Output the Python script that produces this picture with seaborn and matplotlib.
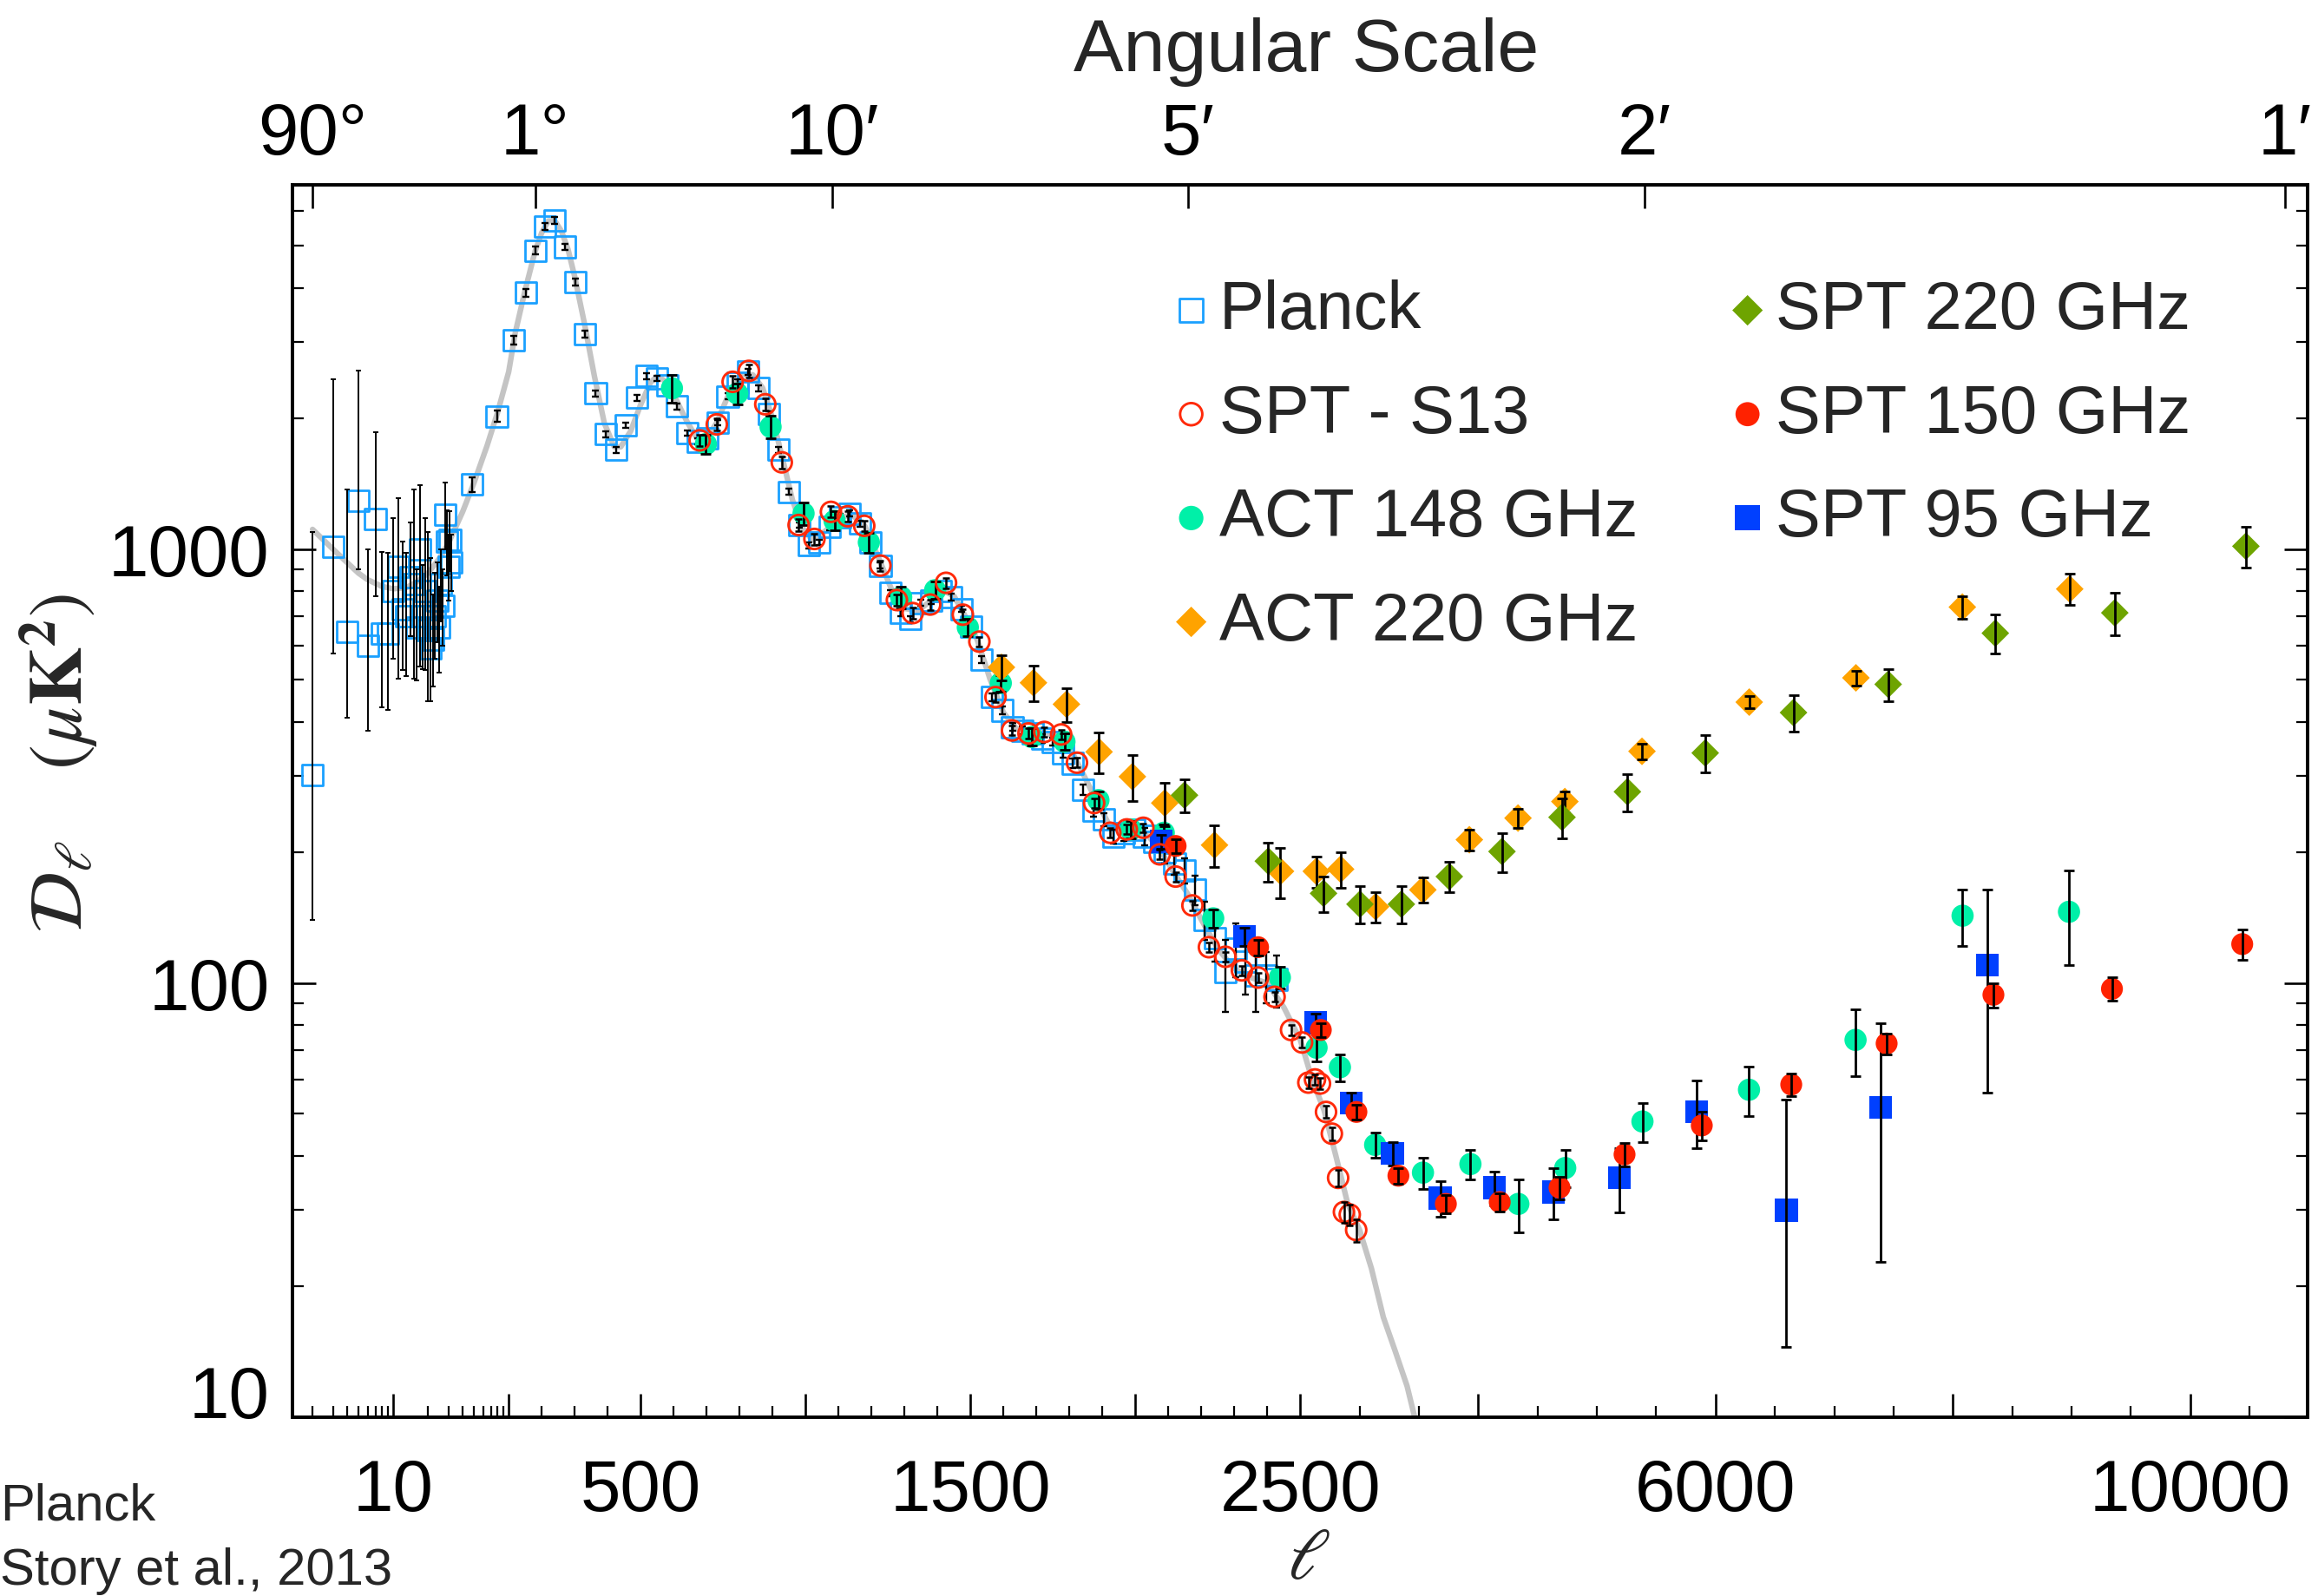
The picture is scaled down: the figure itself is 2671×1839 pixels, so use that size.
import numpy as np
import matplotlib
matplotlib.use("Agg")
import matplotlib.pyplot as plt
import seaborn as sns
from matplotlib.ticker import FixedLocator, FixedFormatter, NullFormatter, NullLocator

# ---------------------------------------------------------------- data
# best-fit LCDM temperature spectrum
theory_ell = [2, 3, 4, 5, 6, 8, 10, 13, 16, 20, 25, 30, 40, 50, 65, 80, 100, 120, 150,
              180, 200, 220, 240, 260, 280, 300, 330, 360, 390, 420, 440, 470, 500, 530,
              550, 570, 600, 640, 670, 700, 730, 770, 810, 840, 870, 900, 930, 960, 990,
              1020, 1060, 1100, 1140, 1180, 1220, 1260, 1300, 1340, 1380, 1420, 1450, 1480,
              1520, 1560, 1600, 1640, 1680, 1720, 1760, 1800, 1840, 1880, 1920, 1960, 2000,
              2040, 2080, 2120, 2160, 2200, 2250, 2300, 2350, 2400, 2450, 2500, 2600, 2700,
              2800, 2900, 3000, 3100, 3200, 3300, 3400, 3480]
theory_dl = [1110, 1000, 930, 880, 850, 820, 810, 815, 840, 880, 950, 1030, 1220, 1420,
             1730, 2060, 2560, 3150, 3950, 4850, 5350, 5700, 5700, 5400, 4900, 4250, 3300,
             2500, 1950, 1720, 1720, 1870, 2150, 2420, 2500, 2450, 2270, 1970, 1800, 1800,
             1950, 2300, 2520, 2520, 2350, 2000, 1620, 1300, 1120, 1050, 1100, 1180, 1200,
             1130, 960, 810, 730, 720, 760, 800, 780, 710, 620, 500, 420, 385, 380, 378,
             372, 350, 305, 265, 232, 222, 222, 218, 200, 178, 160, 140, 120, 108, 103, 100,
             88, 74, 60, 51, 40, 31, 27, 22, 17, 14.2, 11.8, 9.6]

# Planck, unbinned low multipoles (value, lower and upper end of the bar)
planck_low_ell = list(range(2, 33))
planck_low_dl = [301, 1014, 646, 1291, 600, 1171, 640, 640, 800, 911, 728, 700, 860, 830,
                 660, 1000, 700, 800, 650, 590, 620, 700, 760, 660, 830, 740, 1200, 1040,
                 910, 1050, 930]
planck_low_dn = [140, 574, 408, 900, 381, 777, 432, 426, 558, 503, 526, 510, 629, 503,
                 499, 537, 530, 526, 447, 447, 483, 560, 610, 520, 680, 600, 1000, 870,
                 760, 890, 800]
planck_low_up = [1096, 2464, 1374, 2573, 1000, 1859, 986, 978, 1177, 1308, 1039, 982, 1153,
                 1374, 900, 1401, 918, 1180, 1096, 955, 787, 880, 930, 820, 1000, 900, 1420,
                 1230, 1080, 1220, 1080]

# Planck, binned
planck_ell = [48, 79, 116, 153, 182, 210, 240, 271, 302, 332, 364, 395, 425, 456, 488,
              518, 549, 580, 610, 641, 672, 703, 733, 764, 795, 826, 857, 888, 919, 949,
              980, 1011, 1042, 1073, 1104, 1134, 1165, 1196, 1227, 1257, 1288, 1319, 1350,
              1380, 1411, 1442, 1473, 1503, 1534, 1565, 1596, 1627, 1657, 1688, 1719, 1750,
              1781, 1811, 1842, 1873, 1904, 1934, 1965, 1996, 2027, 2057, 2088, 2119, 2150,
              2180, 2211, 2242, 2273, 2304, 2334, 2365, 2396, 2427]
planck_dl = [1408, 2022, 3030, 3894, 4872, 5535, 5714, 4966, 4124, 3125, 2283, 1840, 1693,
             1928, 2230, 2502, 2473, 2380, 2130, 1852, 1771, 1800, 1957, 2249, 2420, 2560,
             2347, 2050, 1692, 1355, 1136, 1020, 1036, 1123, 1185, 1208, 1144, 1036, 916,
             792, 712, 690, 751, 760, 800, 775, 728, 664, 557, 456, 425, 389, 382, 376, 366,
             360, 338, 321, 279, 250, 238, 218, 222, 226, 218, 212, 200, 189, 182, 164, 140,
             127, 106, 120, 112, 104, 104, 102]
planck_err = [55, 60, 75, 85, 95, 100, 100, 90, 75, 55, 40, 30, 27, 30, 33, 37, 37, 35, 32,
              28, 27, 27, 29, 33, 36, 38, 35, 30, 25, 20, 17, 16, 16, 17, 18, 18, 17, 16, 14,
              12, 11, 11, 12, 12, 13, 13, 12, 11, 10, 9, 9, 8, 8, 8, 8, 8, 8, 8, 8, 8, 8, 8,
              9, 9, 10, 10, 11, 11, 12, 13, 14, 15, 20, 17, 18, 18, 14, 14]

# SPT - S13
s13_ell = [679, 731, 779, 828, 878, 928, 979, 1027, 1077, 1128, 1178, 1227, 1277, 1325,
           1378, 1426, 1477, 1527, 1576, 1626, 1676, 1724, 1775, 1823, 1875, 1924, 1974,
           2024, 2074, 2122, 2173, 2223, 2273, 2323, 2372, 2422, 2472, 2515, 2568, 2624,
           2666, 2717, 2766, 2819, 2868, 2917, 2971]
s13_dl = [1780, 1937, 2428, 2573, 2155, 1584, 1136, 1055, 1218, 1190, 1131, 916, 763, 712,
          745, 836, 706, 612, 456, 382, 376, 379, 374, 322, 260, 222, 226, 228, 198, 176,
          151, 121, 115, 107, 103, 93, 78, 73, 59, 60, 58.7, 50.5, 45, 35.6, 29.7, 29.3, 27]
s13_err = [55, 60, 80, 90, 70, 50, 35, 32, 36, 35, 33, 26, 22, 20, 21, 23, 19, 16, 12, 10,
           10, 10, 9.5, 8, 6.5, 5.5, 5.5, 5.5, 5, 4.5, 3.8, 3.2, 3, 2.8, 2.7, 2.4, 2.1, 2,
           1.7, 1.7, 1.7, 1.6, 1.6, 1.6, 1.6, 1.6, 1.6]

# ACT 148 GHz
act148_ell = [595, 698, 793, 894, 994, 1088, 1192, 1290, 1393, 1492, 1592, 1686, 1785,
              1888, 1986, 2086, 2236, 2438, 2637, 2834, 3131, 3534, 3934, 4338, 4733, 5384,
              6282, 7180, 8082, 8979]
act148_dl = [2346, 1745, 2282, 1912, 1208, 1162, 1036, 775, 804, 660, 491, 369, 360, 264,
             226, 222, 141, 103, 71, 64, 42.4, 36.6, 38.3, 31, 37.5, 48, 56.8, 74, 143, 146]
act148_err = [170, 90, 125, 115, 70, 58, 56, 45, 37, 30, 22, 17, 16, 12, 10, 10, 7, 6, 5,
              4.5, 2.8, 3, 3, 4.3, 3.7, 5, 7.5, 13, 21, 36]

# ACT 220 GHz
act220_ell = [1594, 1691, 1791, 1890, 1991, 2089, 2240, 2440, 2635, 2840, 3135, 3533, 3925,
              4335, 4730, 5380, 6284, 7183, 8080, 8985]
act220_dl = [534, 492, 439, 341, 299, 260, 208, 181, 181, 183, 150, 164, 214, 240, 262,
             342, 444, 505, 735, 809]
act220_err = [36, 46, 40, 37, 36, 30, 23, 24, 15, 17, 12, 11, 12, 12, 14, 14, 15, 20, 45, 67]

# SPT 220 GHz
spt220_ell = [2149, 2403, 2696, 3003, 3352, 3756, 4200, 4706, 5257, 5913, 6657, 7455, 8358,
              9365, 10470]
spt220_dl = [271, 191, 161, 152, 152, 176, 201, 241, 276, 339, 420, 488, 640, 713, 1015]
spt220_err = [24, 20, 15, 15, 15, 14, 21, 25, 27, 33, 40, 42, 66, 79, 110]

# SPT 150 GHz
spt150_ell = [2122, 2372, 2673, 2973, 3327, 3727, 4181, 4685, 5233, 5884, 6638, 7442, 8342,
              9341, 10439]
spt150_dl = [207, 121, 78, 50.5, 36, 31, 31.3, 33.8, 40.3, 47, 58.4, 72.6, 94, 97, 123]
spt150_err = [8, 5, 3, 2, 1.5, 1.5, 1.5, 2, 2.5, 3.5, 3.5, 4, 6, 6, 10]

# SPT 95 GHz (lower / upper half of the bar)
spt95_ell = [2079, 2330, 2629, 2929, 3278, 3680, 4137, 4632, 5190, 5840, 6597, 7391, 8292]
spt95_dl = [212, 128, 81, 53, 40.5, 32, 33.8, 33, 35.6, 50.6, 30, 51.8, 110]
spt95_lo = [8, 6, 4, 3, 2.5, 3, 3, 4.5, 6, 9, 15.5, 29, 54]
spt95_hi = [8, 6, 4, 3, 2.5, 3, 3, 4.5, 6, 9, 24, 29, 54]

# angular scale shown along the top edge
angle_ell = [2, 180, 1080, 2160, 5400, 10800]
angle_labels = ["90°", "1°", "10′", "5′", "2′", "1′"]

# ------------------------------------------------------- multipole axis
# logarithmic up to l = 100, then two linear stretches (100-2500, >2500)
L1, L2 = 100.0, 2500.0
S1, S2 = 350.0, 973.0
U2 = 2.0 + (L2 - L1) / S1


def ell_forward(ell):
    ell = np.asarray(ell, dtype=float)
    low = np.log10(np.clip(ell, 1e-6, None))
    mid = 2.0 + (ell - L1) / S1
    high = U2 + (ell - L2) / S2
    return np.where(ell <= L1, low, np.where(ell <= L2, mid, high))


def ell_inverse(u):
    u = np.asarray(u, dtype=float)
    low = 10.0 ** np.clip(u, -6.0, 2.0)
    mid = L1 + (u - 2.0) * S1
    high = L2 + (u - U2) * S2
    return np.where(u <= 2.0, low, np.where(u <= U2, mid, high))


# ---------------------------------------------------------------- style
sns.set_theme(style="ticks")
plt.rcParams["font.family"] = ["Liberation Sans", "DejaVu Sans"]
plt.rcParams["mathtext.fontset"] = "stix"
plt.rcParams["axes.linewidth"] = 2.6

C_PLANCK = "#1aa0ff"
C_S13 = "#ff2a0a"
C_ACT148 = "#00f0a8"
C_ACT220 = "#ffa300"
C_SPT220 = "#6ea400"
C_SPT150 = "#ff2200"
C_SPT95 = "#0040ff"

fig = plt.figure(figsize=(26.71, 18.40), dpi=100)
ax = fig.add_axes([0.12617, 0.11196, 0.86934, 0.7717])
ax.set_xscale("function", functions=(ell_forward, ell_inverse))
ax.set_yscale("log")

XLIM = (1.34, 10990)
YLIM = (10, 6900)

# theory curve
sns.lineplot(x=theory_ell, y=theory_dl, color="#c4c4c4", linewidth=4.6, errorbar=None,
             estimator=None, sort=False, legend=False, zorder=2, ax=ax)


def points(ell, dl, marker, size, color, z, label=None, hollow=False, lw=0.0):
    if hollow:
        sns.scatterplot(x=ell, y=dl, marker=marker, s=size, color=color, facecolor="none",
                        edgecolor=color, linewidth=lw, zorder=z, label=label,
                        legend=False, ax=ax)
    else:
        sns.scatterplot(x=ell, y=dl, marker=marker, s=size, color=color, edgecolor="none",
                        linewidth=0, zorder=z, label=label, legend=False, ax=ax)


def bars(ell, dl, err, z, lw=2.0, cap=4.5):
    ax.errorbar(ell, dl, yerr=err, fmt="none", ecolor="black", elinewidth=lw,
                capsize=cap, capthick=lw, zorder=z)


# Planck
points(planck_low_ell, planck_low_dl, "s", 300, C_PLANCK, 3, label="Planck", hollow=True, lw=2.0)
bars(planck_low_ell, planck_low_dl,
     [np.subtract(planck_low_dl, planck_low_dn), np.subtract(planck_low_up, planck_low_dl)],
     4, lw=1.4, cap=2.5)
points(planck_ell, planck_dl, "s", 300, C_PLANCK, 3, hollow=True, lw=2.0)
bars(planck_ell, planck_dl, planck_err, 4, lw=1.7, cap=2.8)

# ACT 148 GHz
points(act148_ell, act148_dl, "o", 340, C_ACT148, 5, label="ACT 148 GHz")
bars(act148_ell, act148_dl, act148_err, 6)

# ACT 220 GHz
points(act220_ell, act220_dl, "D", 265, C_ACT220, 7, label="ACT 220 GHz")
bars(act220_ell, act220_dl, act220_err, 8)

# SPT 220 GHz
points(spt220_ell, spt220_dl, "D", 265, C_SPT220, 9, label="SPT 220 GHz")
bars(spt220_ell, spt220_dl, spt220_err, 10)

# SPT 95 GHz
points(spt95_ell, spt95_dl, "s", 360, C_SPT95, 11, label="SPT 95 GHz")
bars(spt95_ell, spt95_dl, [spt95_lo, spt95_hi], 12)

# SPT 150 GHz
points(spt150_ell, spt150_dl, "o", 330, C_SPT150, 13, label="SPT 150 GHz")
bars(spt150_ell, spt150_dl, spt150_err, 14)

# SPT - S13
points(s13_ell, s13_dl, "o", 280, C_S13, 15, label="SPT - S13", hollow=True, lw=2.1)
bars(s13_ell, s13_dl, s13_err, 16, lw=1.8, cap=3.0)

ax.set_xlim(*XLIM)
ax.set_ylim(*YLIM)

# ------------------------------------------------------------ ticks
x_major = [10, 100, 500, 1000, 1500, 2000, 2500, 4000, 6000, 8000, 10000]
x_major_lab = ["10", "", "500", "", "1500", "", "2500", "", "6000", "", "10000"]
x_minor = (list(range(2, 10)) + list(range(20, 100, 10))
           + [v for v in range(200, 2500, 100) if v % 500 != 0]
           + [v for v in range(3000, 11000, 500) if v % 2000 != 0])
ax.xaxis.set_major_locator(FixedLocator(x_major))
ax.xaxis.set_major_formatter(FixedFormatter(x_major_lab))
ax.xaxis.set_minor_locator(FixedLocator(x_minor))
ax.xaxis.set_minor_formatter(NullFormatter())

y_major = [10, 100, 1000]
y_minor = list(range(20, 100, 10)) + list(range(200, 1000, 100)) + list(range(2000, 7000, 1000))
ax.yaxis.set_major_locator(FixedLocator(y_major))
ax.yaxis.set_major_formatter(FixedFormatter(["10", "100", "1000"]))
ax.yaxis.set_minor_locator(FixedLocator(y_minor))
ax.yaxis.set_minor_formatter(NullFormatter())

ax.tick_params(axis="x", which="both", direction="in", top=False, bottom=True,
               labelsize=60, pad=33, colors="black")
ax.tick_params(axis="y", which="both", direction="in", left=True, right=True,
               labelsize=60, pad=19, colors="black")
ax.tick_params(which="major", length=19.5, width=1.9)
ax.tick_params(which="minor", length=9.5, width=1.6)
ax.yaxis.get_major_ticks()[0].label1.set_verticalalignment("baseline")

for sp in ax.spines.values():
    sp.set_linewidth(2.6)
    sp.set_color("black")

# angular scale on top
ax_top = ax.twiny()
ax_top.set_xscale("function", functions=(ell_forward, ell_inverse))
ax_top.set_xlim(*XLIM)
ax_top.xaxis.set_major_locator(FixedLocator(angle_ell))
ax_top.xaxis.set_major_formatter(FixedFormatter(angle_labels))
ax_top.xaxis.set_minor_locator(NullLocator())
ax_top.tick_params(axis="x", which="major", direction="in", length=19.5, width=1.9,
                   labelsize=60, pad=14, colors="black")
for sp in ax_top.spines.values():
    sp.set_linewidth(2.6)
    sp.set_color("black")

fig.text(0.5635, 1 - 82 / 1840, "Angular Scale", ha="center", va="baseline", fontsize=62)

# axis labels
ax.set_xlabel(r"$\ell$", fontsize=60, va="center")
ax.xaxis.set_label_coords(0.5043, -0.115)
ax.set_ylabel(r"$\mathcal{D}_{\ell}\quad\;(\mu\mathbf{K}^{\mathbf{2}})$", fontsize=62,
              va="center")
ax.yaxis.set_label_coords(-0.1158, 0.5317)

# legend
order = ["Planck", "SPT - S13", "ACT 148 GHz", "ACT 220 GHz",
         "SPT 220 GHz", "SPT 150 GHz", "SPT 95 GHz"]
handles, labels = ax.get_legend_handles_labels()
lookup = dict(zip(labels, handles))
ax.legend([lookup[k] for k in order], order, ncol=2, loc="upper left",
          bbox_to_anchor=(0.4393, 0.924), frameon=False, fontsize=56,
          handlelength=0.4, handletextpad=0.21, columnspacing=1.43,
          labelspacing=0.6, borderpad=0, borderaxespad=0, markerscale=1.1,
          scatterpoints=1)

# credits
fig.text(0.0, 1 - 1752 / 1840, "Planck", ha="left", va="baseline", fontsize=43)
fig.text(0.0, 1 - 1826 / 1840, "Story et al., 2013", ha="left", va="baseline", fontsize=43)

fig.savefig("out.png", dpi=100)
